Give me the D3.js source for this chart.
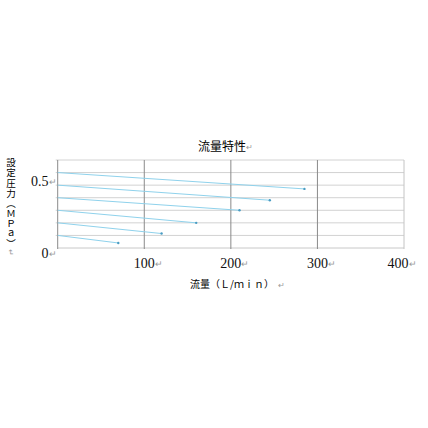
<!DOCTYPE html>
<meta charset="utf-8">
<script src="https://d3js.org/d3.v7.min.js"></script>
<style>
  body { margin: 0; background: #fff; }
</style>
<div id="chart"></div>
<script>

  // data: each curve runs from zero flow to its end point
  var startFlow = [0, 0, 0, 0, 0, 0];
  var startPressure = [0.6, 0.5, 0.4, 0.3, 0.2, 0.1];
  var endFlow = [285, 245, 210, 160, 120, 70];
  var endPressure = [0.47, 0.38, 0.30, 0.20, 0.115, 0.04];

  var xTicks = [100, 200, 300, 400];
  var xTickLabels = ["100", "200", "300", "400"];
  var yGrid = [0.1, 0.2, 0.3, 0.4, 0.5, 0.6, 0.7];
  var yTicks = [0, 0.5];
  var yTickLabels = ["0", "0.5"];

  var title = "流量特性";
  var xTitle = "流量（Ｌ/ｍｉｎ）";
  var yTitle = "設定圧力（ＭＰａ）";
  var retMark = "↵";

  var W = 428, H = 428;
  var margin = {left: 57.7, right: 24, top: 160, bottom: 180};

  var svg = d3.select("#chart")
    .append("svg")
      .attr("width", W)
      .attr("height", H);

  var x = d3.scaleLinear().domain([0, 400]).range([margin.left, W - margin.right]);
  var y = d3.scaleLinear().domain([0, 0.7]).range([H - margin.bottom, margin.top]);

  // horizontal grid
  svg.append("g").selectAll("line")
    .data(yGrid)
    .enter().append("line")
      .attr("x1", x(0) - 2).attr("x2", x(400))
      .attr("y1", function(d) { return y(d); })
      .attr("y2", function(d) { return y(d); })
      .attr("stroke", "#d2d2d2")
      .attr("stroke-width", 1);

  // bottom axis line
  svg.append("line")
    .attr("x1", x(0)).attr("x2", x(400))
    .attr("y1", y(0)).attr("y2", y(0))
    .attr("stroke", "#c8c8c8");

  // vertical grid (right edge lighter)
  svg.append("g").selectAll("line")
    .data([0].concat(xTicks))
    .enter().append("line")
      .attr("x1", function(d) { return x(d); })
      .attr("x2", function(d) { return x(d); })
      .attr("y1", y(0.7)).attr("y2", y(0) + 1)
      .attr("stroke", function(d) { return d === 400 ? "#c4c4c4" : "#8a8a8a"; })
      .attr("stroke-width", 1);

  // curves
  var curves = startPressure.map(function(p, i) {
    return [[startFlow[i], p], [endFlow[i], endPressure[i]]];
  });
  var line = d3.line()
    .x(function(d) { return x(d[0]); })
    .y(function(d) { return y(d[1]); });

  svg.append("g").selectAll("path")
    .data(curves)
    .enter().append("path")
      .attr("d", line)
      .attr("fill", "none")
      .attr("stroke", "#8fd2ec")
      .attr("stroke-width", 1);

  // end markers
  svg.append("g").selectAll("circle")
    .data(curves)
    .enter().append("circle")
      .attr("cx", function(d) { return x(d[1][0]); })
      .attr("cy", function(d) { return y(d[1][1]); })
      .attr("r", 1.2)
      .attr("fill", "#4a9cc2");

  var serif = "'Liberation Serif', 'DejaVu Serif', serif";
  var gothic = "'Noto Sans CJK JP', 'Noto Sans', sans-serif";

  // x tick labels
  xTicks.forEach(function(d, i) {
    var t = svg.append("text")
      .attr("x", x(d) - (d === 400 ? 6 : 0))
      .attr("y", 268)
      .attr("text-anchor", "middle")
      .style("font-family", serif)
      .style("font-size", "14px")
      .attr("fill", "#111")
      .text(xTickLabels[i]);
    var w = t.node().getComputedTextLength();
    svg.append("text")
      .attr("x", x(d) - (d === 400 ? 6 : 0) + w / 2)
      .attr("y", 267)
      .style("font-family", gothic)
      .style("font-size", "9px")
      .attr("fill", "#9a9a9a")
      .text(retMark);
  });

  // y tick labels
  yTicks.forEach(function(d, i) {
    var yy = y(d) + (d === 0 ? 9.5 : 1);
    svg.append("text")
      .attr("x", 48.5)
      .attr("y", yy)
      .attr("text-anchor", "end")
      .style("font-family", serif)
      .style("font-size", "14px")
      .attr("fill", "#111")
      .text(yTickLabels[i]);
    svg.append("text")
      .attr("x", 48.5)
      .attr("y", yy - 1)
      .style("font-family", gothic)
      .style("font-size", "9px")
      .attr("fill", "#9a9a9a")
      .text(retMark);
  });

  // title
  var tt = svg.append("text")
    .attr("x", 222)
    .attr("y", 150.5)
    .attr("text-anchor", "middle")
    .style("font-family", gothic)
    .style("font-size", "12px")
    .attr("fill", "#000")
    .text(title);
  svg.append("text")
    .attr("x", 222 + tt.node().getComputedTextLength() / 2)
    .attr("y", 150)
    .style("font-family", gothic)
    .style("font-size", "8px")
    .attr("fill", "#9a9a9a")
    .text(retMark);

  // x title
  var xt = svg.append("text")
    .attr("x", 190)
    .attr("y", 288)
    .style("font-family", gothic)
    .style("font-size", "10px")
    .attr("fill", "#000")
    .text(xTitle);
  svg.append("text")
    .attr("x", 190 + xt.node().getComputedTextLength() + 4)
    .attr("y", 288)
    .style("font-family", gothic)
    .style("font-size", "8px")
    .attr("fill", "#9a9a9a")
    .text(retMark);

  // y title, vertical writing, one text element
  var yt = svg.append("text")
    .attr("x", 11)
    .attr("y", 158)
    .style("writing-mode", "vertical-rl")
    .style("font-family", gothic)
    .style("font-size", "9.5px")
    .style("letter-spacing", "0.6px")
    .attr("fill", "#000");
  yt.append("tspan").text(yTitle);
  yt.append("tspan").attr("fill", "#9a9a9a").style("font-size", "8px").text(retMark);

</script>
